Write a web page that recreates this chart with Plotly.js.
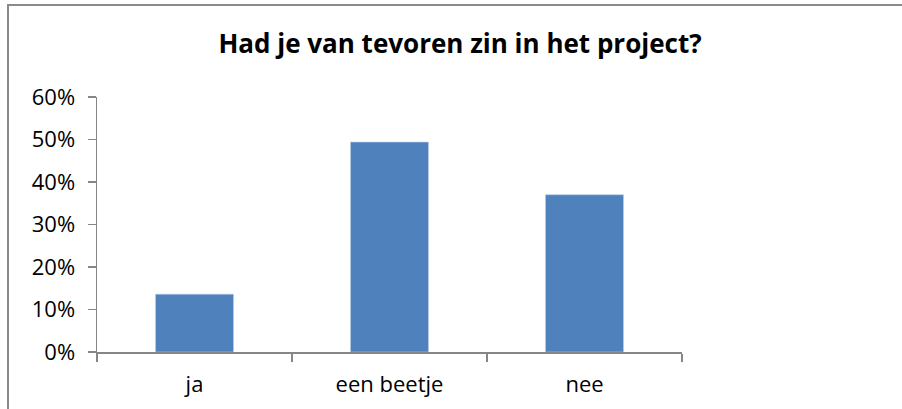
<!DOCTYPE html>
<html>
<head>
<meta charset="utf-8">
<script src="https://cdn.plot.ly/plotly-3.0.1.min.js"></script>
<style>
  html, body { margin: 0; padding: 0; background: #fff; overflow: hidden; }
  #wrap { position: relative; width: 902px; height: 409px; overflow: hidden; }
  #chart { width: 902px; height: 409px; }
  #frame { position: absolute; left: 7px; top: 4px; width: 1000px; height: 1000px;
           border: 2px solid #8a8a8a; pointer-events: none; box-sizing: border-box; }
</style>
</head>
<body>
<div id="wrap">
  <div id="chart"></div>
  <div id="frame"></div>
</div>
<script>
const categories = ["ja", "een beetje", "nee"];
const values = [0.136, 0.494, 0.37];
const titleText = "Had je van tevoren zin in het project?";

const trace = {
  type: "bar",
  x: categories,
  y: values,
  marker: { color: "#4F81BD", line: { color: "#B9CDE5", width: 0.6 } },
  hoverinfo: "x+y"
};

const layout = {
  width: 902,
  height: 409,
  margin: { l: 97, r: 220, t: 97, b: 57 },
  paper_bgcolor: "#ffffff",
  plot_bgcolor: "#ffffff",
  showlegend: false,
  bargap: 0.6,
  font: { family: "'Open Sans', Lato, sans-serif", color: "#000000", size: 22 },
  title: {
    text: "<b>" + titleText + "</b>",
    font: { family: "'Open Sans', Lato, sans-serif", size: 26, color: "#000000" },
    xref: "container", x: 0.51, xanchor: "center",
    yref: "container", y: 0.892, yanchor: "middle"
  },
  xaxis: {
    type: "category",
    showline: true, linecolor: "#868686", linewidth: 1.5,
    ticks: "outside", tickson: "boundaries", ticklen: 8, tickcolor: "#868686", tickwidth: 1.5,
    showgrid: false, zeroline: false,
    ticklabelstandoff: 12,
    tickfont: { size: 22 }
  },
  yaxis: {
    range: [0, 0.6],
    dtick: 0.1, tick0: 0,
    tickformat: ".0%",
    showline: true, linecolor: "#868686", linewidth: 1.5,
    ticks: "outside", ticklen: 8, tickcolor: "#868686", tickwidth: 1.5,
    showgrid: false, zeroline: false,
    ticklabelstandoff: 8,
    tickfont: { size: 22 }
  }
};

Plotly.newPlot("chart", [trace], layout, { staticPlot: true, displayModeBar: false });
</script>
</body>
</html>
